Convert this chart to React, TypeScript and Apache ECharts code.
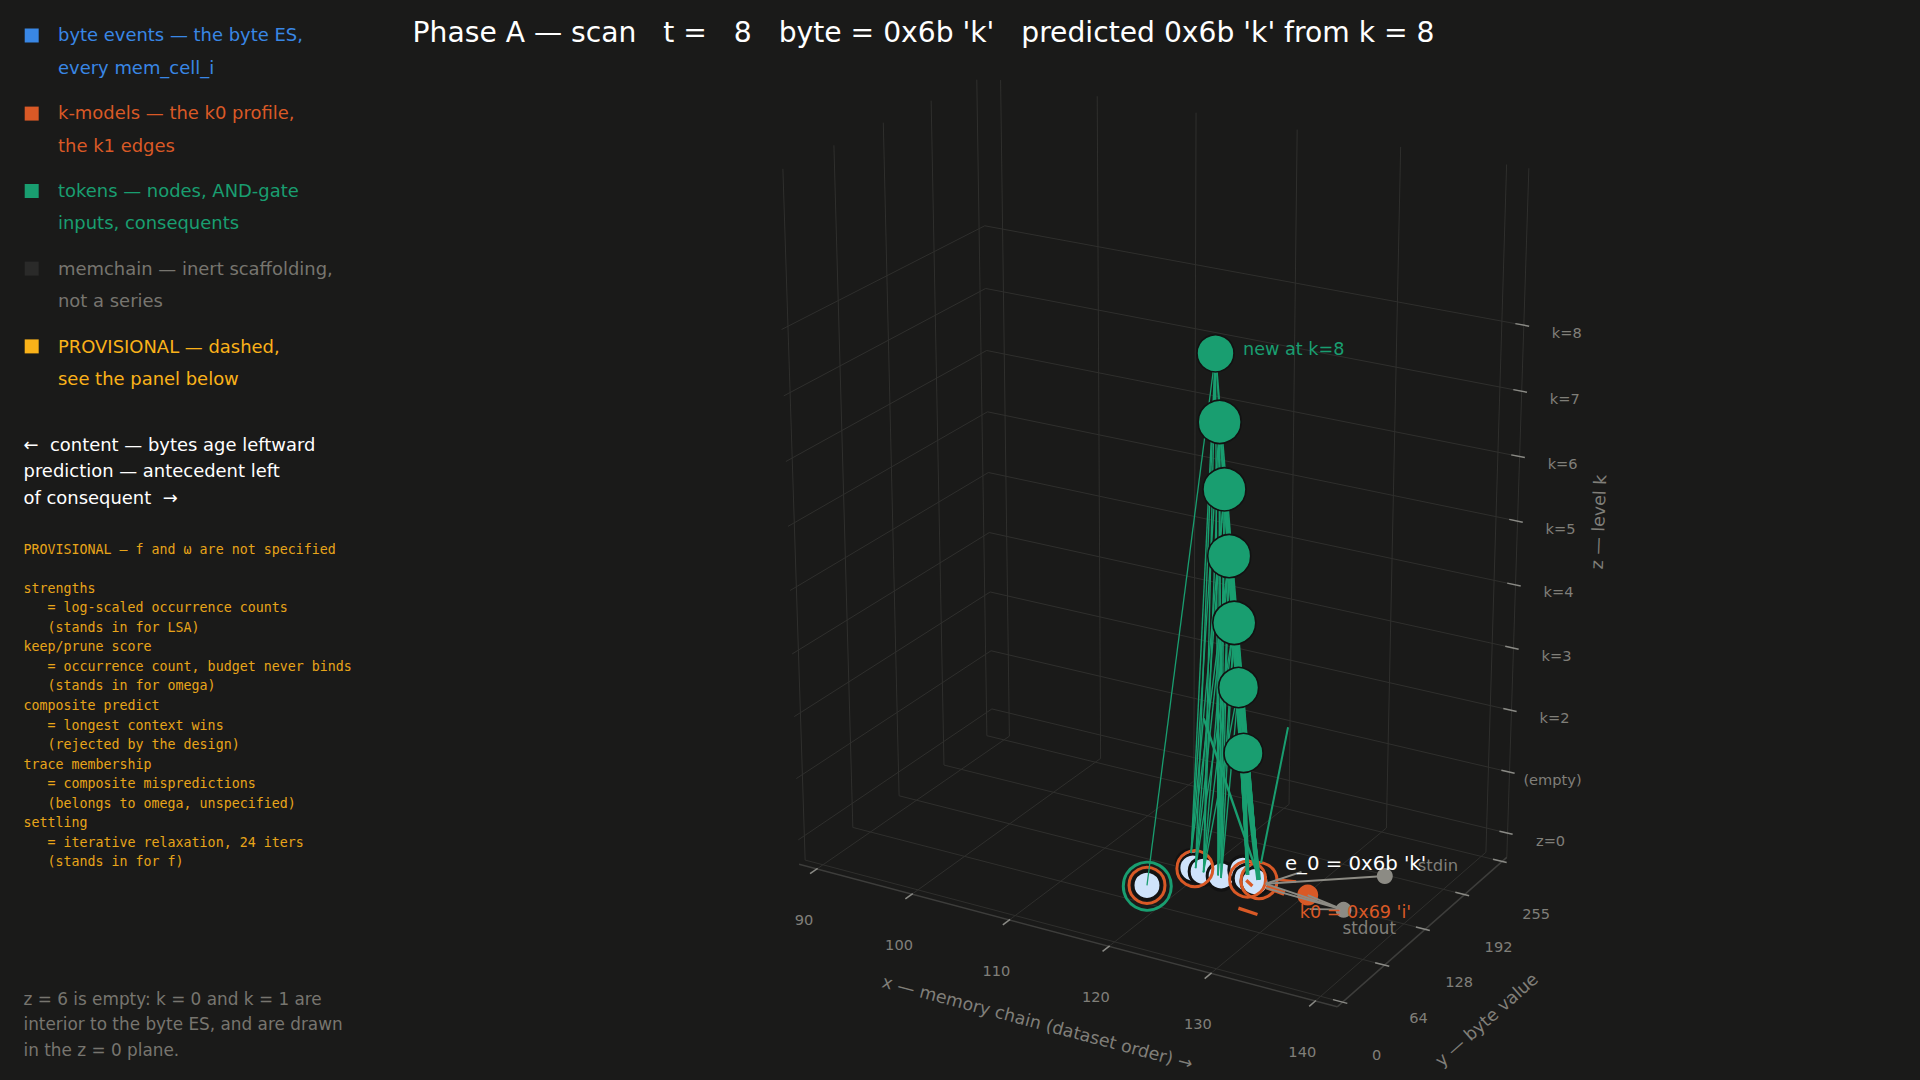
import React, { useEffect, useRef } from "react";
import * as echarts from "echarts";

// ---- axis bounds and ticks
const xLo=88.1,xHi=142.07,yLo=-8,yHi=263,zLo=-0.4,zTop=10.33;
const xTicks=[90,100,110,120,130,140];
const yTicks=[0,64,128,192,255];
const zTicks=[0,1,2,3,4,5,6,7,8];
const zTickLabels=["z=0","(empty)","k=2","k=3","k=4","k=5","k=6","k=7","k=8"];
// ---- byte events at z = 0
const eventX=[120.6,121.2,122.3,124.1,125.2,126.3,127.2,119.4];
const eventY=[101,96,95,95,111,101,99,55];
// ---- orange rings (k-model hits) and green ring
const ringX=[121.4,126.4,127.4,119.4];
const ringY=[96,100,102,55];
const greenRingX=[119.5];
const greenRingY=[54];
// ---- token nodes
const nodeK=[8,7,6,5,4,3,2];
const nodeX=[122.8,123.3,123.8,124.3,124.9,125.3,125.9];
const nodeY=[102,101,101,101,100,101,100];
const nodeSize=[37,43,43,43,43,40,39];
// ---- AND-gate input anchors in the z = 0 plane
const inputX=[119.6,121.4,122.4,123.8,124.3,126.0,127.3];
const inputY=[117,97,94,95,92,106,103];
// input index -> token levels
const inputLevels=[[8,7,6,5],[8,6,5,4],[8,7,5,4,3],[8,7,6,5,4],[7,6,5,4,3],[8,7,6,5,4,3,2],[8,7,6,5,4,3,2]];
const gThick=[1.6,2,2.2,2.5,2.8,3.2,4.8];
// ---- consequents (free ends): [x0,y0,0, x1,y1,2]
const consequentA=[125.9,128,0,126.7,155,2];
const consequentB=[126.2,116,0,119.4,138,2];
// ---- k1 edges
const k1Edges=[[128.4,56,130.4,54,3.2],[126.4,98,127.4,92,3.2],[128.5,96,130.5,93,5],[128.6,110,130.3,114,2.6]];
// ---- k0 and memchain ends
const k0=[132.4,99];
const stdinPt=[136.5,154];
const stdoutPt=[136.4,91];
const hub=[128.2,100];
const hub2=[128.6,94];
const shortEnd=[129.8,130];
const sideA=[133.8,80];
const sideB=[135.8,89];

const calib = [
  [88.1,263,0,992,711.3],[142.07,263,0,1505,835.7],[88.1,263,8,984.5,225.7],[142.07,263,8,1520.7,325],
  [88.1,-8,8,781.4,330],[88.1,-8,0,797.3,842.7],[142.07,-8,-0.4,1336.7,1006.7],[142.07,263,-0.4,1508.3,857.3],
  [88.1,-8,-0.4,797.3,862.7],[88.1,263,-0.4,992.2,730.9],[140,263,-0.4,1489,852.7],[90,263,-0.4,1010.7,735.3],
  [88.1,0,-0.4,804,859.3],[88.1,255,-0.4,986.7,734.7],[90,-8,-0.4,819,868],[140,-8,-0.4,1318.3,1000],[142.07,263,4,1509.8,584],
  [88.1,0,10.33,782.4,170],[88.1,255,10.33,976.3,79.3],[90,263,10.33,1002.3,80],[140,263,10.33,1509,164.7],[142.07,263,10.33,1531,167.3],
];
function solve(A:number[][],b:number[]){const n=b.length;const M=A.map((r,i)=>[...r,b[i]]);for(let i=0;i<n;i++){let p=i;for(let r=i+1;r<n;r++)if(Math.abs(M[r][i])>Math.abs(M[p][i]))p=r;[M[i],M[p]]=[M[p],M[i]];for(let r=0;r<n;r++){if(r===i)continue;const f=M[r][i]/M[i][i];for(let c=i;c<=n;c++)M[r][c]-=f*M[i][c];}}return M.map((r,i)=>r[n]/r[i]);}
const nx=(x:number)=>(x-115)/30,ny=(y:number)=>(y-128)/140,nz=(z:number)=>(z-4)/5;
function fit(){const rows:number[][]=[];const rhs:number[]=[];for(const [X,Y,Z,u0,v0] of calib){const x=nx(X),y=ny(Y),z=nz(Z),u=u0/1000,v=v0/1000;rows.push([x,y,z,1,0,0,0,0,-u*x,-u*y,-u*z]);rhs.push(u);rows.push([0,0,0,0,x,y,z,1,-v*x,-v*y,-v*z]);rhs.push(v);}
const N=11;const A=Array.from({length:N},()=>Array(N).fill(0));const b=Array(N).fill(0);rows.forEach((r,k)=>{for(let i=0;i<N;i++){b[i]+=r[i]*rhs[k];for(let j=0;j<N;j++)A[i][j]+=r[i]*r[j];}});return solve(A,b);}
const P=fit();
function proj(X:number,Y:number,Z:number){const x=nx(X),y=ny(Y),z=nz(Z);const w=P[8]*x+P[9]*y+P[10]*z+1;return [1000*(P[0]*x+P[1]*y+P[2]*z+P[3])/w,1000*(P[4]*x+P[5]*y+P[6]*z+P[7])/w];}

const legend=[["#3987e5","#3987e5","byte events — the byte ES,","every mem_cell_i"],["#d95926","#d95926","k-models — the k0 profile,","the k1 edges"],["#199e70","#199e70","tokens — nodes, AND-gate","inputs, consequents"],["#2a2a29","#77756f","memchain — inert scaffolding,","not a series"],["#fab219","#fab219","PROVISIONAL — dashed,","see the panel below"]];
const legendY=[[35.5,34.4,67],[113.6,112.5,145],[191,190,222.7],[268.6,268,300.5],[346.4,346,378.5]];
const arrowLines=["←  content — bytes age leftward","prediction — antecedent left","of consequent  →"];
const provisional=["PROVISIONAL — f and ω are not specified","","strengths","   = log-scaled occurrence counts","   (stands in for LSA)","keep/prune score","   = occurrence count, budget never binds","   (stands in for omega)","composite predict","   = longest context wins","   (rejected by the design)","trace membership","   = composite mispredictions","   (belongs to omega, unspecified)","settling","   = iterative relaxation, 24 iters","   (stands in for f)"];
const noteLines=["z = 6 is empty: k = 0 and k = 1 are","interior to the byte ES, and are drawn","in the z = 0 plane."];
const titleText="Phase A — scan   t =   8   byte = 0x6b 'k'   predicted 0x6b 'k' from k = 8";
const F="'DejaVu Sans'";
const ORANGE="#d95926",GREEN="#199e70",PALE="#cfe3fb",GREY="#8c8b84",LBL="#807f79";

export default function App(){const ref=useRef<HTMLDivElement>(null);useEffect(()=>{document.body.style.margin="0";document.body.style.background="#1a1a19";const c=echarts.init(ref.current!,undefined,{renderer:"svg"});
const seg=(a:number[],b:number[],col:string,w:number)=>({coords:[proj(a[0],a[1],a[2]),proj(b[0],b[1],b[2])],lineStyle:{color:col,width:w,opacity:1,curveness:0}});
const frame:any[]=[];const L=(a:number[],b:number[],col="#2f2f2d",w=1)=>frame.push(seg(a,b,col,w));
for(const x of xTicks){L([x,yLo,zLo],[x,yHi,zLo]);L([x,yHi,zLo],[x,yHi,zTop]);}
for(const y of yTicks){L([xLo,y,zLo],[xHi,y,zLo]);L([xLo,y,zLo],[xLo,y,zTop]);}
for(const z of zTicks){L([xLo,yLo,z],[xLo,yHi,z]);L([xLo,yHi,z],[xHi,yHi,z]);}
L([xHi,yHi,zLo],[xHi,yHi,zTop]);L([xLo,yLo,zLo],[xHi,yLo,zLo],"#3d3d3b",1.5);L([xHi,yLo,zLo],[xHi,yHi,zLo],"#3d3d3b",1.5);
const tc="#8a8a85";
for(const x of xTicks)L([x,yLo+1,zLo],[x,yLo-9,zLo],tc,1.5);
for(const y of yTicks)L([xHi-0.9,y,zLo],[xHi+0.45,y,zLo],tc,1.5);
for(const z of zTicks)L([xHi-0.8,yHi,z],[xHi+0.5,yHi,z],tc,1.5);

const green:any[]=[];
inputLevels.forEach((lv,i)=>lv.forEach(k=>{const n=nodeK.indexOf(k);const heavy=i>=5;const w=heavy?gThick[n]*(i===6?1:0.8):1.4;green.push(seg([inputX[i],inputY[i],0],[nodeX[n],nodeY[n],k],GREEN,w));}));
green.push(seg([eventX[7],eventY[7],0],[nodeX[0],nodeY[0],8],GREEN,1.3));
green.push(seg(consequentA.slice(0,3),consequentA.slice(3),GREEN,2));
green.push(seg(consequentB.slice(0,3),consequentB.slice(3),GREEN,2.4));
const orange=k1Edges.map(e=>seg([e[0],e[1],0],[e[2],e[3],0],ORANGE,e[4]));
const h0=[hub[0],hub[1],0],h1=[hub2[0],hub2[1],0];
const greyEdges=[seg(h0,[stdinPt[0],stdinPt[1],0],GREY,2),seg(h0,[stdoutPt[0],stdoutPt[1],0],GREY,2),seg(h1,[stdoutPt[0],stdoutPt[1],0],GREY,2),seg(h0,[shortEnd[0],shortEnd[1],0],GREY,2),seg([k0[0],k0[1],0],[stdoutPt[0],stdoutPt[1],0],GREY,2),seg([sideA[0],sideA[1],0],[sideB[0],sideB[1],0],GREY,1.6)];

const g:any[]=[];
const T=(text:string,x:number,y:number,fill:string,size:number,o:any={},fam=F)=>g.push({type:"text",x,y,rotation:o.rotation||0,z:o.z||100,style:{text,fill,font:`${size}px ${fam}`,align:o.align||"left",verticalAlign:"middle"}});
T(titleText,412.6,32,"#ffffff",28.2);
legend.forEach((l,i)=>{g.push({type:"rect",z:100,shape:{x:24.7,y:legendY[i][0]-7,width:14,height:14},style:{fill:l[0]}});T(l[2],58,legendY[i][1],l[1],17.95);T(l[3],58,legendY[i][2],l[1],17.95);});
arrowLines.forEach((s,i)=>T(s,23.5,444+i*26.5,"#ffffff",17.95));
provisional.forEach((s,i)=>T(s,23.5,549+i*19.56,"#e8a51a",13.3,{},"'DejaVu Sans Mono'"));
noteLines.forEach((s,i)=>T(s,23.5,999.3+i*25.1,"#77756f",16.87));
xTicks.forEach(x=>{const p=proj(x,yLo,zLo);T(String(x),p[0]-13,p[1]+50.5,LBL,14.6,{align:"center"});});
yTicks.forEach(y=>{const p=proj(xHi,y,zLo);T(String(y),p[0]+34,p[1]+52,LBL,14.6,{align:"center"});});
zTicks.forEach((z,i)=>{const p=proj(xHi,yHi,z);T(zTickLabels[i],p[0]+43,p[1]+7,LBL,14.6,{align:"center"});});
T("x — memory chain (dataset order) →",1037.4,1022.5,LBL,17.4,{align:"center",rotation:-14.95*Math.PI/180});
T("y — byte value",1486.5,1019.7,LBL,17.4,{align:"center",rotation:41.6*Math.PI/180});
T("z — level k",1598.5,522,LBL,17.4,{align:"center",rotation:87.8*Math.PI/180});
const n8=proj(nodeX[0],nodeY[0],8);T("new at k=8",n8[0]+27.5,n8[1]-4,GREEN,17.6);
const pk=proj(k0[0],k0[1],0);const pi=proj(stdinPt[0],stdinPt[1],0);const po=proj(stdoutPt[0],stdoutPt[1],0);
T("stdin",pi[0]+33,pi[1]-11,LBL,16.4,{z:100});T("stdout",po[0]-1,po[1]+17.7,LBL,16.8,{z:100});
T("k0 = 0x69 'i'",pk[0]-8,pk[1]+17,ORANGE,17.6,{z:101});
const pg=proj(eventX[6],eventY[6],0);T("e_0 = 0x6b 'k'",pg[0]+30,pg[1]-18.7,"#ffffff",19.7,{z:102});

const xy=(xs:number[],ys:number[],z=0)=>xs.map((x,i)=>proj(x,ys[i],z));
const lines=(data:any[],z:number)=>({type:"lines",coordinateSystem:"cartesian2d",silent:true,z,data});
const scat=(data:number[][],size:any,item:any,z:number)=>({type:"scatter",coordinateSystem:"cartesian2d",silent:true,symbol:"circle",symbolSize:size,itemStyle:{opacity:1,...item},z,data});
c.setOption({animation:false,backgroundColor:"#1a1a19",xAxis:{show:false,type:"value",min:0,max:1920},yAxis:{show:false,type:"value",min:0,max:1080,inverse:true},grid:{left:0,right:0,top:0,bottom:0},
series:[lines(frame,1),
scat(xy(eventX,eventY),28,{color:PALE,borderColor:"#121212",borderWidth:3},2),
scat(xy(ringX,ringY),36,{color:"transparent",borderColor:ORANGE,borderWidth:3},3),
scat(xy(greenRingX,greenRingY),48,{color:"transparent",borderColor:GREEN,borderWidth:3},3),
lines(green,4),
scat(nodeK.map((k,i)=>proj(nodeX[i],nodeY[i],k)),(_:any,p:any)=>nodeSize[p.dataIndex],{color:GREEN,borderColor:"#121212",borderWidth:1.6},5),
lines(orange,6),
scat([proj(k0[0],k0[1],0)],21,{color:ORANGE},7),
lines(greyEdges,8),
scat([pi,po],16,{color:GREY},9),
],
graphic:g});
return()=>c.dispose();},[]);return <div ref={ref} style={{position:"fixed",left:0,top:0,width:1920,height:1080}}/>;}
